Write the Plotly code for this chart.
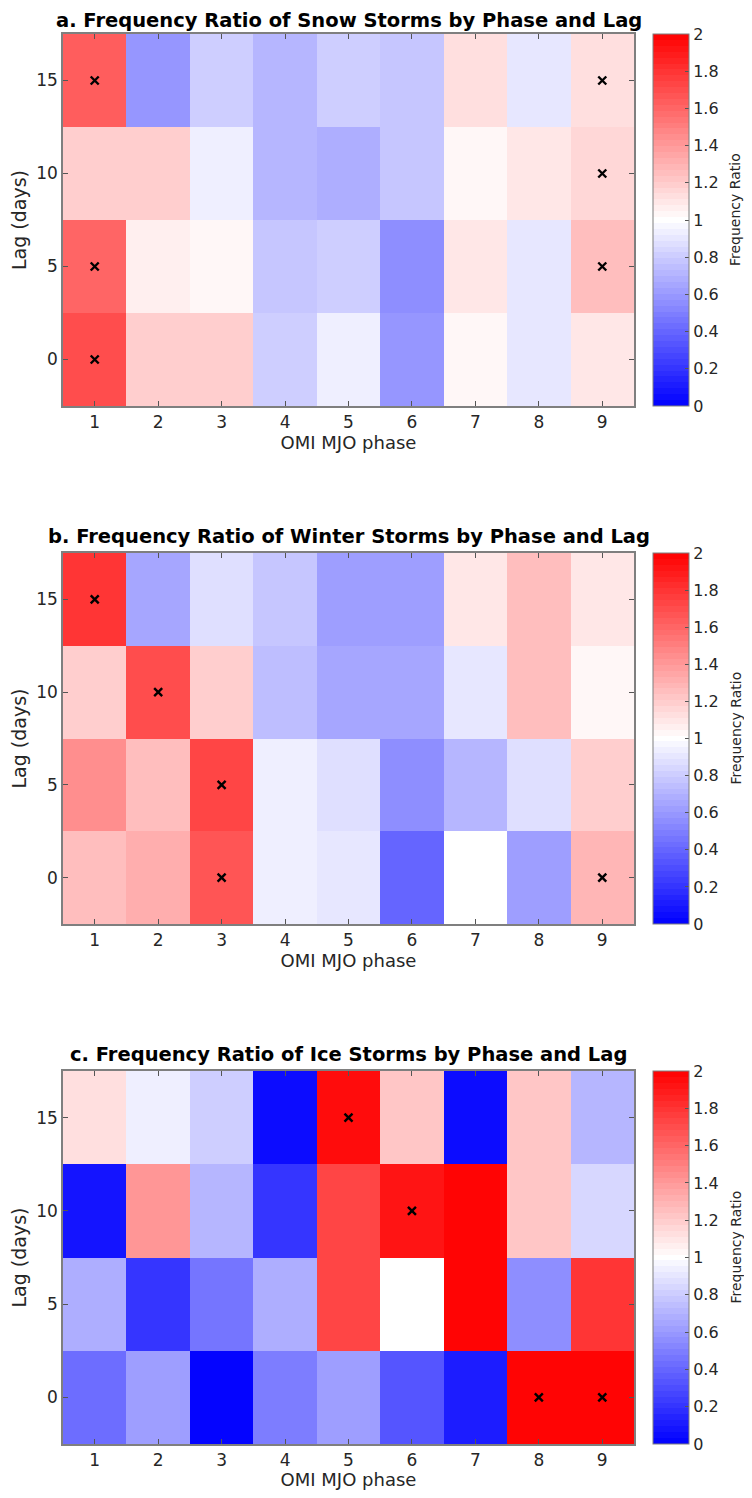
import plotly.graph_objects as go

phases = [1, 2, 3, 4, 5, 6, 7, 8, 9]
lags = [0, 5, 10, 15]

# rows: lag 0, 5, 10, 15 ; cols: phase 1..9
snow = [
    [1.70, 1.20, 1.20, 0.80, 0.93, 0.59, 1.04, 0.90, 1.10],
    [1.60, 1.06, 1.04, 0.77, 0.82, 0.55, 1.08, 0.90, 1.24],
    [1.20, 1.20, 0.93, 0.70, 0.67, 0.77, 1.04, 1.10, 1.16],
    [1.63, 0.60, 0.82, 0.70, 0.80, 0.77, 1.14, 0.90, 1.14],
]
winter = [
    [1.24, 1.33, 1.67, 0.93, 0.90, 0.41, 1.00, 0.61, 1.27],
    [1.43, 1.24, 1.73, 0.93, 0.87, 0.55, 0.70, 0.87, 1.20],
    [1.20, 1.69, 1.20, 0.75, 0.65, 0.65, 0.90, 1.24, 1.04],
    [1.80, 0.65, 0.86, 0.77, 0.63, 0.63, 1.10, 1.25, 1.10],
]
ice = [
    [0.43, 0.61, 0.00, 0.49, 0.63, 0.33, 0.10, 2.20, 1.98],
    [0.69, 0.22, 0.47, 0.67, 1.73, 1.00, 2.30, 0.57, 1.80],
    [0.08, 1.40, 0.73, 0.20, 1.73, 1.93, 2.20, 1.22, 0.84],
    [1.13, 0.93, 0.80, 0.04, 1.96, 1.22, 0.04, 1.22, 0.70],
]

snow_sig_phase = [1, 9, 9, 1, 9, 1]
snow_sig_lag = [15, 15, 10, 5, 5, 0]
winter_sig_phase = [1, 2, 3, 3, 9]
winter_sig_lag = [15, 10, 5, 0, 0]
ice_sig_phase = [5, 6, 8, 9]
ice_sig_lag = [15, 10, 0, 0]

titles = [
    "a. Frequency Ratio of Snow Storms by Phase and Lag",
    "b. Frequency Ratio of Winter Storms by Phase and Lag",
    "c. Frequency Ratio of Ice Storms by Phase and Lag",
]
cbar_ticks = [0, 0.2, 0.4, 0.6, 0.8, 1, 1.2, 1.4, 1.6, 1.8, 2]

# stepped blue-white-red colormap (odd number of levels so 1.0 is white)
N = 63
cscale = []
for i in range(N):
    t = (i + 0.5) / N
    if t < 0.5:
        a = int(round(255 * t * 2))
        col = f"rgb({a},{a},255)"
    else:
        b = int(round(255 * (2 - 2 * t)))
        col = f"rgb(255,{b},{b})"
    cscale.append([i / N, col])
    cscale.append([(i + 1) / N, col])

OFF = 8  # page body margin
W, H = 752 - OFF, 1498 - 2 * OFF
px_l, px_r = 63 - OFF, 634 - OFF
tops = [34 - OFF, 553 - OFF, 1071 - OFF]
bots = [406 - OFF, 924 - OFF, 1444 - OFF]
title_y = [17 - OFF, 536 - OFF, 1054 - OFF]
cb_x = 653 - OFF
cb_title_x = 735 - OFF
cb_title_shift = 10

fig = go.Figure()
datasets = [snow, winter, ice]
sigs = [(snow_sig_phase, snow_sig_lag), (winter_sig_phase, winter_sig_lag), (ice_sig_phase, ice_sig_lag)]
axcol = "#262626"
fam = "DejaVu Sans"

for k in range(3):
    xa = "x" if k == 0 else f"x{k+1}"
    ya = "y" if k == 0 else f"y{k+1}"
    y0 = 1 - bots[k] / H
    y1 = 1 - tops[k] / H
    fig.add_trace(go.Heatmap(
        x=phases, y=lags, z=datasets[k], zmin=0, zmax=2,
        colorscale=cscale, xaxis=xa, yaxis=ya, hoverinfo="skip",
        colorbar=dict(
            x=cb_x / W, xanchor="left", xpad=0, ypad=0,
            y=(y0 + y1) / 2, yanchor="middle", len=(y1 - y0), lenmode="fraction",
            thickness=36, thicknessmode="pixels",
            outlinecolor="#7f7f7f", outlinewidth=1,
            tickvals=cbar_ticks, ticktext=[f"{v:g}" for v in cbar_ticks],
            ticks="inside", ticklen=4, tickcolor="#555",
            tickfont=dict(family=fam, size=16, color=axcol),
        ),
    ))
    fig.add_trace(go.Scatter(
        x=sigs[k][0], y=sigs[k][1], mode="markers", xaxis=xa, yaxis=ya,
        marker=dict(symbol="x-thin", size=8, color="black",
                    line=dict(width=2.4, color="black")),
        showlegend=False, hoverinfo="skip",
    ))
    xkey = "xaxis" if k == 0 else f"xaxis{k+1}"
    ykey = "yaxis" if k == 0 else f"yaxis{k+1}"
    fig.layout[xkey] = dict(
        domain=[px_l / W, px_r / W], anchor=ya, range=[0.5, 9.5],
        tickvals=phases, ticks="inside", ticklen=5, tickcolor="#555",
        showline=True, linecolor="#7f7f7f", linewidth=1.5, mirror="ticks",
        showgrid=False, zeroline=False,
        tickfont=dict(family=fam, size=17, color=axcol),
        title=dict(text="OMI MJO phase", standoff=3,
                   font=dict(family=fam, size=18, color=axcol)),
    )
    fig.layout[ykey] = dict(
        domain=[y0, y1], anchor=xa, range=[-2.5, 17.5],
        tickvals=[0, 5, 10, 15], ticks="inside", ticklen=5, tickcolor="#555",
        showline=True, linecolor="#7f7f7f", linewidth=1.5, mirror="ticks",
        showgrid=False, zeroline=False,
        tickfont=dict(family=fam, size=17, color=axcol),
        title=dict(text="Lag (days)", standoff=6,
                   font=dict(family=fam, size=19, color=axcol)),
    )
    if k == 0:
        ty, yanc = 1.0, "top"
    else:
        ty, yanc = 1 - title_y[k] / H, "middle"
    fig.add_annotation(
        text=f"<b>{titles[k]}</b>", xref="paper", yref="paper",
        x=(px_l + px_r) / 2 / W, y=ty, xanchor="center", yanchor=yanc, borderpad=0,
        showarrow=False, font=dict(family=fam, size=19.5, color="black"),
    )
    fig.add_annotation(
        text="Frequency Ratio", xref="paper", yref="paper", textangle=-90,
        x=cb_title_x / W, y=(y0 + y1) / 2 + cb_title_shift / H,
        xanchor="center", yanchor="middle", borderpad=0,
        showarrow=False, font=dict(family=fam, size=14, color=axcol),
    )

fig.update_layout(
    width=W, height=H, margin=dict(l=0, r=0, t=0, b=0),
    paper_bgcolor="white", plot_bgcolor="white", showlegend=False,
)

fig.write_html("out.html")
